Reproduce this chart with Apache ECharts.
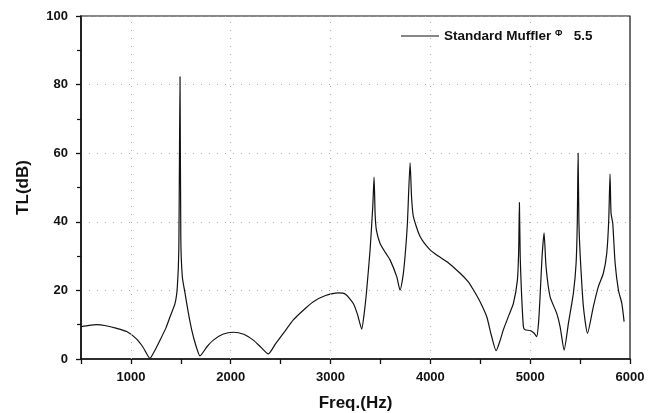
<!DOCTYPE html>
<html>
<head>
<meta charset="utf-8">
<script src="https://cdn.jsdelivr.net/npm/echarts@6/dist/echarts.min.js"></script>
<style>
  html, body { margin: 0; padding: 0; background: #fff; }
  #chart { width: 660px; height: 413px; }
</style>
</head>
<body>
<div id="chart"></div>
<script>
// Transmission loss of the standard muffler versus frequency
const freqHz = [
  500, 580, 657, 750, 850, 958, 1050, 1120, 1191, 1240, 1292, 1350, 1392, 1442, 1465, 1480, 1492, 1500, 1515, 1542,
  1575, 1609, 1650, 1692, 1760, 1826, 1920, 2026, 2130, 2226, 2300, 2377, 2450, 2540, 2627, 2730, 2828, 2950, 3078, 3150,
  3228, 3270, 3312, 3340, 3362, 3396, 3423, 3436, 3447, 3460, 3496, 3550, 3596, 3663, 3696, 3725, 3746, 3770, 3797, 3812,
  3830, 3897, 3997, 4080, 4164, 4298, 4380, 4432, 4498, 4565, 4610, 4659, 4700, 4731, 4790, 4832, 4872, 4885, 4892, 4900,
  4912, 4932, 4949, 4999, 5040, 5066, 5085, 5099, 5119, 5139, 5159, 5199, 5266, 5300, 5340, 5383, 5433, 5460, 5472, 5480,
  5488, 5500, 5533, 5574, 5633, 5683, 5733, 5767, 5787, 5800, 5810, 5827, 5851, 5884, 5918, 5941
];
const tlDb = [
  9.4, 9.8, 10.0, 9.7, 9.0, 8.0, 6.0, 3.5, 0.2, 2.5, 5.5, 9.0, 12.3, 16.2, 21, 32, 82.3, 35, 24, 19.2,
  13.5, 8.5, 4.0, 0.9, 3.5, 5.5, 7.2, 7.8, 7.2, 5.5, 3.5, 1.5, 4.5, 8.0, 11.4, 14.3, 16.7, 18.5, 19.3, 18.9,
  16.2, 13.0, 8.7, 14, 20.1, 31.8, 44.4, 53, 42, 37.5, 33.7, 31, 28.9, 24, 20.1, 24, 29.8, 39.6, 57.2, 47,
  41.5, 35.7, 31.8, 30, 28.4, 25, 22.5, 20.1, 16.7, 12.3, 7, 2.4, 5.5, 8.5, 13, 16.2, 23, 32, 45.6, 30,
  20, 9.4, 8.5, 8.3, 7.5, 6.5, 11, 18.2, 29.8, 36.8, 26.9, 18.2, 13.3, 9.4, 2.6, 10.4, 19.2, 27.9, 40, 60.0,
  40, 30.8, 15.3, 7.5, 15.3, 21.1, 25, 30.8, 40.5, 53.9, 42.5, 39.6, 27.9, 20.1, 16.2, 10.9
];
const seriesName = 'Standard Muffler';
const xTicks = [1000, 2000, 3000, 4000, 5000, 6000];
const xGrid = [1000, 2000, 3000, 4000, 5000];
const yTicks = [0, 20, 40, 60, 80, 100];

const font = 'Liberation Sans, Arial, sans-serif';
const chart = echarts.init(document.getElementById('chart'), null, { renderer: 'canvas' });

const dotted = { color: '#aaa', width: 1, type: [1, 7] };

chart.setOption({
  animation: false,
  backgroundColor: '#fff',
  grid: {
    left: 81, right: 30, top: 16, bottom: 54,
    outerBoundsMode: 'none', containLabel: false,
    show: true, borderColor: '#111', borderWidth: 1.2, backgroundColor: 'transparent'
  },
  legend: {
    left: 396, top: 24,
    itemWidth: 38, itemHeight: 10, itemGap: 4,
    data: [{ name: seriesName, icon: 'path://M0,5 L38,5 L38,6 L0,6 Z' }],
    formatter: () => '{a|' + seriesName + ' }{b|Φ}{a|   5.5}',
    textStyle: {
      rich: {
        a: { fontFamily: font, fontWeight: 'bold', fontSize: 13.5, color: '#111' },
        b: { fontFamily: font, fontWeight: 'bold', fontSize: 9, color: '#111', verticalAlign: 'top', padding: [0, 0, 4, 0] }
      }
    }
  },
  xAxis: {
    type: 'value', min: 500, max: 6000, interval: 500,
    name: 'Freq.(Hz)', nameLocation: 'middle', nameGap: 36,
    nameTextStyle: { fontFamily: font, fontWeight: 'bold', fontSize: 17, color: '#111' },
    axisLine: { lineStyle: { color: '#111', width: 1.6 } },
    axisTick: { length: 5, lineStyle: { color: '#111', width: 1.3 } },
    axisLabel: {
      margin: 12, fontFamily: font, fontWeight: 'bold', fontSize: 13, color: '#111',
      formatter: v => xTicks.includes(v) ? String(v) : ''
    },
    splitLine: { show: false }
  },
  yAxis: {
    type: 'value', min: 0, max: 100, interval: 20,
    name: 'TL(dB)', nameLocation: 'middle', nameGap: 49, nameRotate: 90,
    nameTextStyle: { fontFamily: font, fontWeight: 'bold', fontSize: 17, color: '#111' },
    axisLine: { show: true, lineStyle: { color: '#111', width: 1.6 } },
    axisTick: { show: true, length: 5, lineStyle: { color: '#111', width: 1.3 } },
    minorTick: { show: true, splitNumber: 2, length: 4, lineStyle: { color: '#111', width: 1.2 } },
    axisLabel: {
      margin: 13, fontFamily: font, fontWeight: 'bold', fontSize: 13, color: '#111',
      formatter: v => yTicks.includes(v) ? String(v) : ''
    },
    splitLine: { show: true, lineStyle: dotted }
  },
  series: [{
    name: seriesName,
    type: 'line',
    data: freqHz.map((f, i) => [f, tlDb[i]]),
    showSymbol: false,
    symbol: 'none',
    smooth: 0.2,
    lineStyle: { color: '#111', width: 1.2 },
    itemStyle: { color: '#111' },
    // dotted vertical grid at the labelled frequencies
    markLine: {
      silent: true,
      symbol: 'none',
      label: { show: false },
      lineStyle: dotted,
      data: xGrid.map(v => ({ xAxis: v }))
    }
  }]
});
</script>
</body>
</html>
